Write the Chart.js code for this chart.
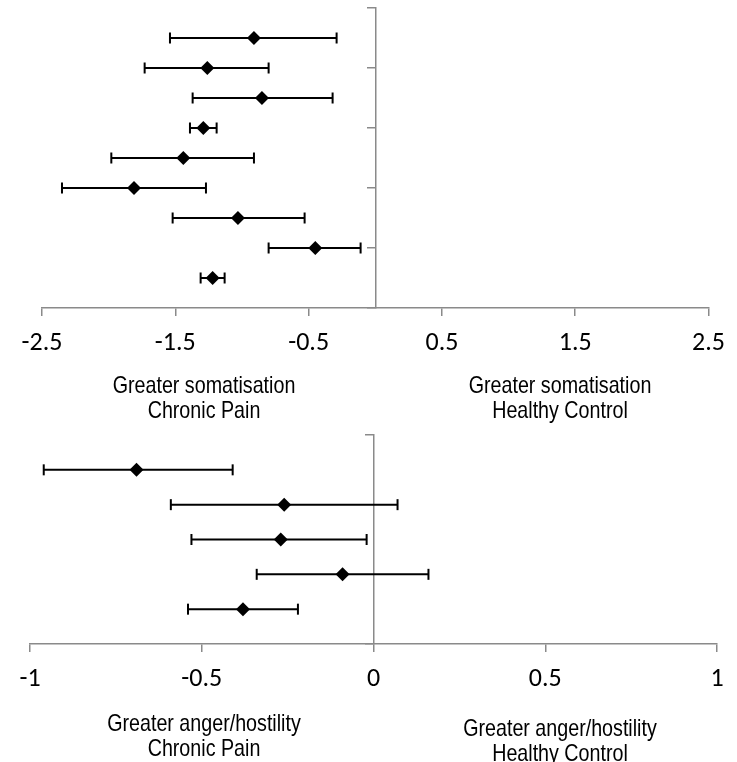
<!DOCTYPE html>
<html><head><meta charset="utf-8">
<script src="https://cdn.jsdelivr.net/npm/chart.js@4.4.1/dist/chart.umd.min.js"></script>
<style>
html,body{margin:0;padding:0;background:#fff;}
#wrap{position:relative;width:737px;height:762px;overflow:hidden;background:#fff;}
.box{position:absolute;left:0;width:737px;}
.lbl{position:absolute;width:320px;font-family:"Liberation Sans Narrow","Liberation Sans",Arial,sans-serif;font-size:24px;line-height:25px;color:#000;text-align:center;white-space:nowrap;transform:scaleX(0.82);transform-origin:center top;}
</style></head><body>
<div id="wrap">
  <div class="box" style="top:0;height:420px;"><canvas id="c1"></canvas></div>
  <div class="box" style="top:420px;height:342px;"><canvas id="c2"></canvas></div>
  <div class="lbl" style="left:44px;top:372px;">Greater somatisation<br>Chronic Pain</div>
  <div class="lbl" style="left:400px;top:372px;">Greater somatisation<br>Healthy Control</div>
  <div class="lbl" style="left:44px;top:710px;">Greater anger/hostility<br>Chronic Pain</div>
  <div class="lbl" style="left:400px;top:715px;">Greater anger/hostility<br>Healthy Control</div>
</div>
<script>
// Somatisation panel
const somRows   = [9, 8, 7, 6, 5, 4, 3, 2, 1];
const somEffect = [-0.91, -1.26, -0.85, -1.29, -1.44, -1.81, -1.03, -0.45, -1.22];
const somLower  = [-1.54, -1.73, -1.37, -1.39, -1.98, -2.35, -1.52, -0.80, -1.31];
const somUpper  = [-0.29, -0.80, -0.32, -1.19, -0.91, -1.27, -0.53, -0.11, -1.13];
const somTicks  = [-2.5, -1.5, -0.5, 0.5, 1.5, 2.5];

// Anger/hostility panel
const angRows   = [5, 4, 3, 2, 1];
const angEffect = [-0.69, -0.26, -0.27, -0.09, -0.38];
const angLower  = [-0.96, -0.59, -0.53, -0.34, -0.54];
const angUpper  = [-0.41, 0.07, -0.02, 0.16, -0.22];
const angTicks  = [-1, -0.5, 0, 0.5, 1];

const AXIS = '#8a8a8a';
const TICKFONT = {family: 'Carlito, Lato, "Open Sans", sans-serif', size: 26};

function buildDatasets(rows, eff, lo, hi) {
  const ds = [];
  ds.push({
    type: 'scatter', order: 0,
    data: rows.map((r, i) => ({x: eff[i], y: r})),
    pointStyle: 'rectRot', pointRadius: 7, pointHoverRadius: 7,
    backgroundColor: '#000', borderColor: '#000', borderWidth: 0
  });
  const caps = [];
  rows.forEach((r, i) => { caps.push({x: lo[i], y: r}); caps.push({x: hi[i], y: r}); });
  ds.push({
    type: 'scatter', order: 1, data: caps,
    pointStyle: 'line', rotation: 90, pointRadius: 5.5, pointHoverRadius: 5.5,
    borderColor: '#000', borderWidth: 2
  });
  rows.forEach((r, i) => {
    ds.push({
      type: 'line', order: 2,
      data: [{x: lo[i], y: r}, {x: hi[i], y: r}],
      borderColor: '#000', borderWidth: 2, pointRadius: 0, fill: false
    });
  });
  return ds;
}

function makeChart(id, rows, eff, lo, hi, ticks, xmin, xmax, ymax, ystep, pad, axisH) {
  new Chart(document.getElementById(id), {
    type: 'scatter',
    data: {datasets: buildDatasets(rows, eff, lo, hi)},
    options: {
      responsive: true, maintainAspectRatio: false, animation: false,
      layout: {padding: pad},
      plugins: {legend: {display: false}, tooltip: {enabled: false}},
      events: [],
      scales: {
        x: {
          type: 'linear', position: 'bottom', min: xmin, max: xmax,
          afterBuildTicks: s => { s.ticks = ticks.map(v => ({value: v})); },
          afterFit: s => { s.height = axisH; },
          grid: {drawOnChartArea: false, drawTicks: true, tickLength: 8, color: AXIS, lineWidth: 1.5},
          border: {display: true, color: AXIS, width: 1.5},
          ticks: {color: '#000', font: TICKFONT, padding: 12, maxRotation: 0, autoSkip: false,
                  callback: v => String(v)}
        },
        y: {
          type: 'linear', position: {x: 0}, min: 0, max: ymax,
          ticks: {display: false, stepSize: ystep},
          grid: {drawOnChartArea: false, drawTicks: true, tickLength: 8, color: AXIS, lineWidth: 1.5},
          border: {display: true, color: AXIS, width: 1.5}
        }
      }
    }
  });
}

makeChart('c1', somRows, somEffect, somLower, somUpper, somTicks, -2.5, 2.5, 10, 2,
          {left: 42, right: 28, top: 8, bottom: 0}, 112);
makeChart('c2', angRows, angEffect, angLower, angUpper, angTicks, -1, 1, 6, 6,
          {left: 30, right: 20, top: 15, bottom: 0}, 118);
</script>
</body></html>
